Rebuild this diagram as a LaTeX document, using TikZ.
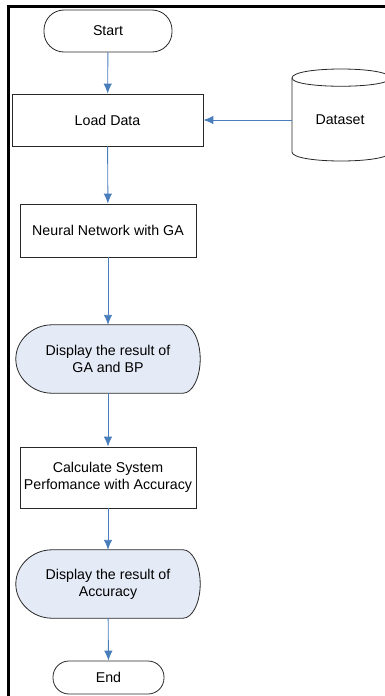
\documentclass[tikz,border=0pt]{standalone}
\usepackage{fontspec}
\setmainfont{Liberation Sans}
\usetikzlibrary{arrows.meta,calc}
\definecolor{flowblue}{RGB}{74,126,187}
\definecolor{dispfill}{RGB}{229,235,246}
\definecolor{edgegray}{RGB}{40,40,40}

% Outline of a "display" symbol fitted to the bounding box of node #1
\newcommand\displayoutline[1]{%
  \draw[dispedge]
    ($(#1.north west)+(36,0)$) -- ($(#1.north east)+(-17,0)$)
    .. controls ($(#1.north east)+(-8,0)$) and ($(#1.east)+(0,-19)$) .. (#1.east)
    .. controls ($(#1.east)+(0,19)$) and ($(#1.south east)+(-8,0)$) .. ($(#1.south east)+(-17,0)$)
    -- ($(#1.south west)+(36,0)$)
    .. controls ($(#1.south west)+(17,0)$) and ($(#1.west)+(0,19)$) .. (#1.west)
    .. controls ($(#1.west)+(0,-19)$) and ($(#1.north west)+(17,0)$) .. cycle;}

\begin{document}
\begin{tikzpicture}[x=1pt,y=-1pt,
  every node/.style={font=\fontsize{14.2}{17}\selectfont, align=center, inner sep=0pt},
  terminal/.style={draw=edgegray, line width=0.8pt, rectangle},
  procbox/.style={draw=edgegray, line width=0.8pt, rectangle},
  dispbox/.style={rectangle, minimum width=184pt, minimum height=68pt},
  dispedge/.style={draw=edgegray, line width=0.8pt, fill=dispfill},
  flow/.style={draw=flowblue, line width=0.9pt, -{Latex[length=10pt,width=8.5pt]}},
  frame/.style={draw=black, line width=2.5pt}]

\useasboundingbox (0,0) rectangle (385,696);
\clip (0,0) rectangle (385,696);

% page frame (top and left edges)
\draw[frame] (386,6.5) -- (8.5,6.5) -- (8.5,697);

% dataset storage cylinder, running past the right edge
\draw[draw=edgegray, line width=0.8pt, fill=white]
  (292,78) -- (292,152) .. controls (292,164) and (390,164) .. (390,152)
  -- (390,78) .. controls (390,66) and (292,66) .. cycle;
\draw[draw=edgegray, line width=0.8pt]
  (292,78) .. controls (292,89) and (390,89) .. (390,78);
\node[minimum width=96pt, minimum height=60pt] (data) at (340,120) {Dataset};

% display symbols drawn behind their labels
\path node[dispbox] (res1) at (108,359) {} node[dispbox] (res2) at (108,584) {};
\displayoutline{res1}
\displayoutline{res2}
\node at (res1) {Display the result of\\GA and BP};
\node at (res2) {Display the result of\\Accuracy};

\node[terminal, minimum width=128pt, minimum height=42pt, rounded corners=20pt] (start) at (108,31) {Start};
\node[procbox, minimum width=191pt, minimum height=52pt] (load) at (107.5,120) {Load Data};
\node[procbox, minimum width=176pt, minimum height=53pt] (nn) at (108,230.5) {Neural Network with GA};
\node[procbox, minimum width=176pt, minimum height=61pt] (calc) at (108,477.5) {Calculate System\\Perfomance with Accuracy};
\node[terminal, minimum width=111pt, minimum height=33pt, rounded corners=16pt] (end) at (108.5,677.5) {End};

% connectors
\draw[flow] (start) -- (load);
\draw[flow] (data.west) -- (load.east);
\draw[flow] (load) -- (nn);
\draw[flow] (nn) -- (res1);
\draw[flow] (res1) -- (calc);
\draw[flow] (calc) -- (res2);
\draw[flow] (res2) -- (end);
\end{tikzpicture}
\end{document}
